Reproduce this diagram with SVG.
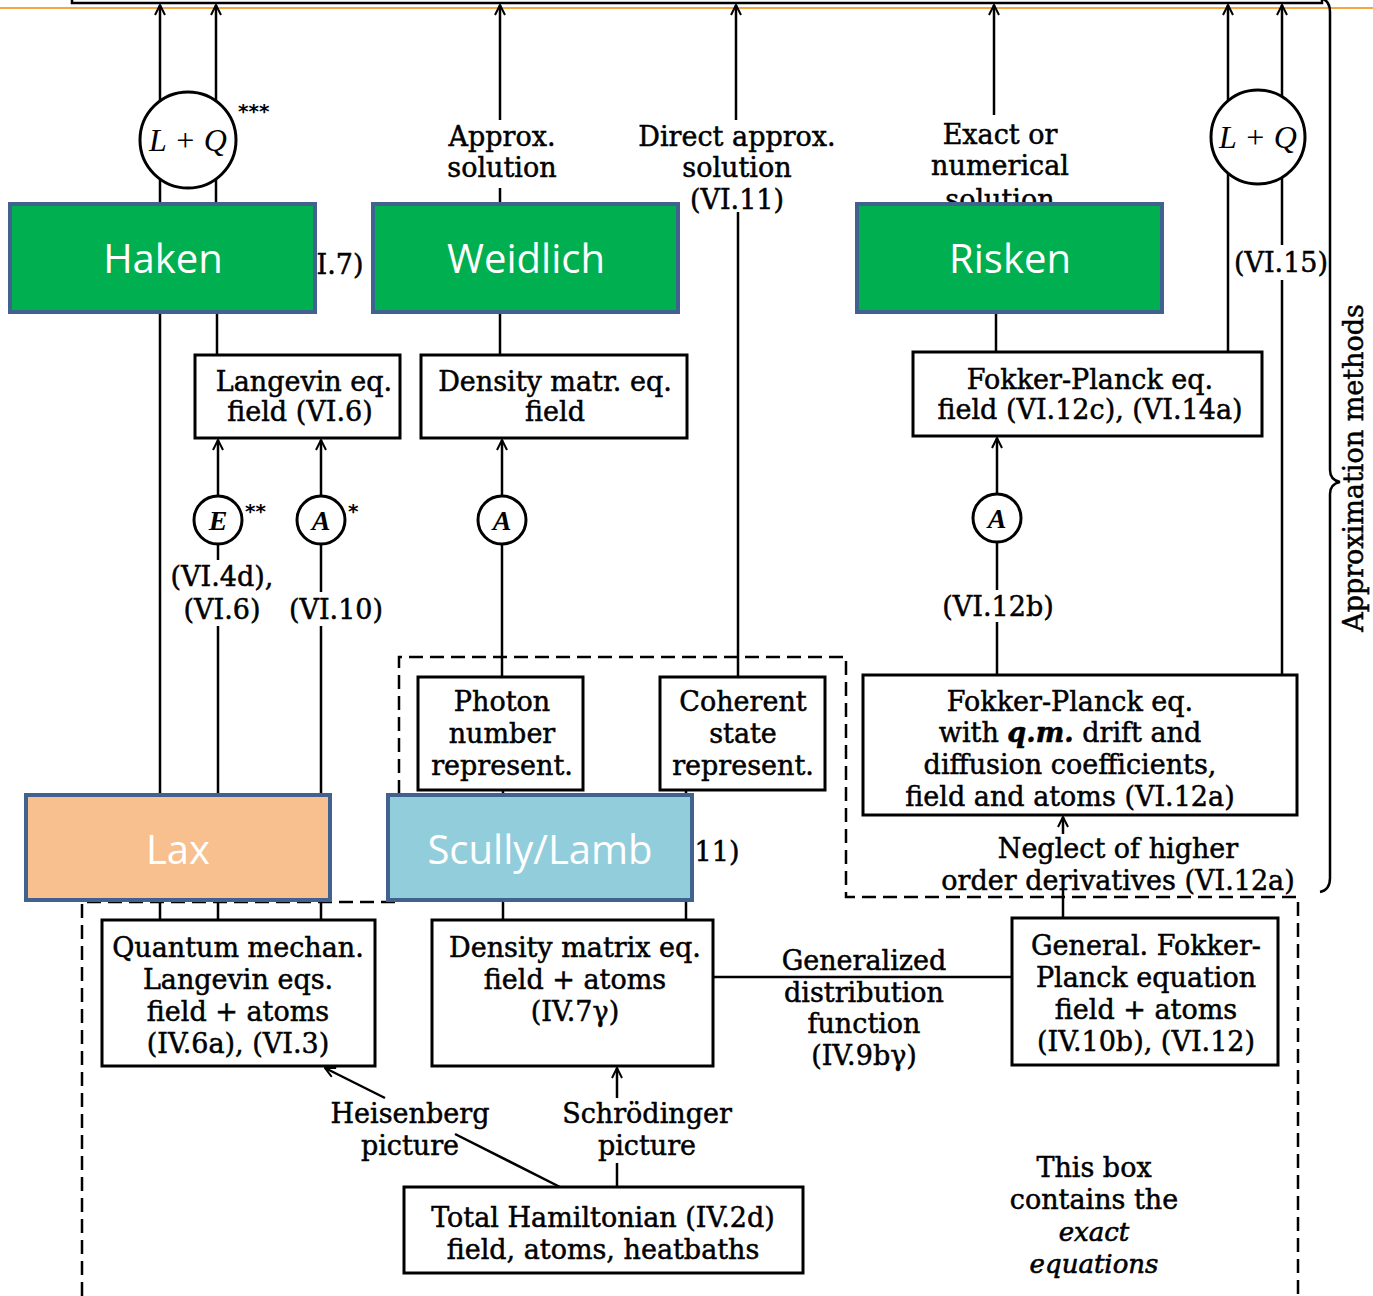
<svg xmlns="http://www.w3.org/2000/svg" width="1373" height="1296" viewBox="0 0 1373 1296">
<style>
.t{font-family:"DejaVu Serif",serif;font-size:27px;fill:#000;stroke:#000;stroke-width:0.5;text-anchor:middle}
.ti{font-family:"DejaVu Serif",serif;font-size:26px;font-style:italic;fill:#000;stroke:#000;stroke-width:0.6;text-anchor:middle}
.m{font-family:"Liberation Serif",serif;font-size:32px;font-style:italic;fill:#000;text-anchor:middle}
.c{font-family:"Liberation Serif",serif;font-size:28px;font-style:italic;font-weight:bold;fill:#000;text-anchor:middle}
.st{font-family:"DejaVu Sans",sans-serif;font-size:20px;font-weight:bold;fill:#000}
.b{fill:#fff;stroke:#000;stroke-width:3}
.l{stroke:#000;stroke-width:2.5;fill:none}
.d{stroke:#000;stroke-width:2.5;fill:none;stroke-dasharray:14 7}
.hl{stroke:#41628F;stroke-width:4}
.ht{font-family:"Open Sans",sans-serif;font-size:40px;fill:#fff;text-anchor:middle}
</style>
<defs>
<marker id="ar" viewBox="0 0 12 12" refX="11" refY="6" markerWidth="12" markerHeight="12" markerUnits="userSpaceOnUse" orient="auto">
<path d="M1,1 L11,6 L1,11" fill="none" stroke="#000" stroke-width="2"/>
</marker>
</defs>
<rect width="1373" height="1296" fill="#fff"/>
<!-- top box and orange rule -->
<rect x="72" y="-20" width="1250" height="23" fill="none" stroke="#000" stroke-width="2.5"/>
<line x1="0" y1="8" x2="1373" y2="8" stroke="#F5A640" stroke-width="2"/>
<!-- brace -->
<path class="l" d="M1320,-2 Q1330,0 1330,12 V470 Q1330,480 1340,482 Q1330,484 1330,494 V878 Q1330,890 1320,892" stroke-width="3"/>
<text class="t" transform="translate(1363,468) rotate(-90)" font-size="26">Approximation methods</text>

<!-- exact equations dashed box -->
<path class="d" d="M82,1296 V902 H399 V657 H846 V897 H1298 V1296"/>

<g id="connectors">
<!-- top arrows -->
<line class="l" x1="160" y1="204" x2="160" y2="5" marker-end="url(#ar)"/>
<line class="l" x1="216" y1="204" x2="216" y2="5" marker-end="url(#ar)"/>
<line class="l" x1="500" y1="120" x2="500" y2="5" marker-end="url(#ar)"/>
<line class="l" x1="736" y1="120" x2="736" y2="5" marker-end="url(#ar)"/>
<line class="l" x1="994" y1="115" x2="994" y2="5" marker-end="url(#ar)"/>
<line class="l" x1="1228" y1="352" x2="1228" y2="5" marker-end="url(#ar)"/>
<line class="l" x1="1282" y1="245" x2="1282" y2="5" marker-end="url(#ar)"/>
<line class="l" x1="1282" y1="280" x2="1282" y2="675"/>
<!-- small joins -->
<line class="l" x1="500" y1="188" x2="500" y2="204"/>
<line class="l" x1="738" y1="212" x2="738" y2="677"/>
<!-- left column -->
<line class="l" x1="160" y1="312" x2="160" y2="920"/>
<line class="l" x1="217" y1="312" x2="217" y2="355"/>
<line class="l" x1="218" y1="496" x2="218" y2="440" marker-end="url(#ar)"/>
<line class="l" x1="321" y1="496" x2="321" y2="440" marker-end="url(#ar)"/>
<line class="l" x1="218" y1="544" x2="218" y2="560"/>
<line class="l" x1="218" y1="626" x2="218" y2="920"/>
<line class="l" x1="321" y1="544" x2="321" y2="592"/>
<line class="l" x1="321" y1="626" x2="321" y2="920"/>
<!-- density matr column -->
<line class="l" x1="500" y1="312" x2="500" y2="355"/>
<line class="l" x1="502" y1="496" x2="502" y2="440" marker-end="url(#ar)"/>
<line class="l" x1="502" y1="544" x2="502" y2="677"/>
<line class="l" x1="503" y1="790" x2="503" y2="920"/>
<line class="l" x1="686" y1="790" x2="686" y2="920"/>
<!-- Fokker-Planck column -->
<line class="l" x1="996" y1="312" x2="996" y2="352"/>
<line class="l" x1="997" y1="494" x2="997" y2="438" marker-end="url(#ar)"/>
<line class="l" x1="997" y1="542" x2="997" y2="590"/>
<line class="l" x1="997" y1="622" x2="997" y2="675"/>
<line class="l" x1="1063" y1="834" x2="1063" y2="817" marker-end="url(#ar)"/>
<line class="l" x1="1063" y1="888" x2="1063" y2="918"/>
<!-- bottom -->
<line class="l" x1="713" y1="977" x2="1012" y2="977"/>
<line class="l" x1="560" y1="1187" x2="455" y2="1134"/>
<line class="l" x1="385" y1="1098" x2="325" y2="1068" marker-end="url(#ar)"/>
<line class="l" x1="617" y1="1187" x2="617" y2="1163"/>
<line class="l" x1="617" y1="1098" x2="617" y2="1068" marker-end="url(#ar)"/>
</g>

<!-- labels -->
<g id="labels">
<text class="t" x="502" y="146">Approx.</text>
<text class="t" x="502" y="177">solution</text>
<text class="t" x="737" y="146">Direct approx.</text>
<text class="t" x="737" y="177">solution</text>
<text class="t" x="737" y="209">(VI.11)</text>
<text class="t" x="1000" y="144">Exact or</text>
<text class="t" x="1000" y="175">numerical</text>
<text class="t" x="1000" y="209">solution</text>
<text class="t" x="340" y="274">I.7)</text>
<text class="t" x="1281" y="272">(VI.15)</text>
<text class="t" x="222" y="586">(VI.4d),</text>
<text class="t" x="222" y="619">(VI.6)</text>
<text class="t" x="336" y="619">(VI.10)</text>
<text class="t" x="998" y="616">(VI.12b)</text>
<text class="t" x="717" y="861">11)</text>
<text class="t" x="1118" y="858">Neglect of higher</text>
<text class="t" x="1118" y="890">order derivatives (VI.12a)</text>
<text class="t" x="864" y="970">Generalized</text>
<text class="t" x="864" y="1002">distribution</text>
<text class="t" x="864" y="1033">function</text>
<text class="t" x="864" y="1065">(IV.9bγ)</text>
<text class="t" x="410" y="1123">Heisenberg</text>
<text class="t" x="410" y="1155">picture</text>
<text class="t" x="647" y="1123">Schrödinger</text>
<text class="t" x="647" y="1155">picture</text>
<text class="t" x="1094" y="1177">This box</text>
<text class="t" x="1094" y="1209">contains the</text>
<text class="ti" x="1094" y="1241">exact</text>
<text class="ti" x="1094" y="1273">equations</text>
</g>

<!-- circles -->
<g id="lq-left"><circle class="b" cx="188" cy="140" r="48" stroke-width="2.5"/><text class="m" x="188" y="151">L + Q</text><text class="st" x="238" y="118">***</text></g>
<g id="lq-right"><circle class="b" cx="1258" cy="137" r="47" stroke-width="2.5"/><text class="m" x="1258" y="148">L + Q</text></g>
<g id="e-circle"><circle class="b" cx="218" cy="520" r="24" stroke-width="2.5"/><text class="c" x="218" y="530">E</text><text class="st" x="245" y="518">**</text></g>
<g id="a-circle1"><circle class="b" cx="321" cy="520" r="24" stroke-width="2.5"/><text class="c" x="321" y="530">A</text><text class="st" x="348" y="518">*</text></g>
<g id="a-circle2"><circle class="b" cx="502" cy="520" r="24" stroke-width="2.5"/><text class="c" x="502" y="530">A</text></g>
<g id="a-circle3"><circle class="b" cx="997" cy="518" r="24" stroke-width="2.5"/><text class="c" x="997" y="528">A</text></g>

<!-- text boxes -->
<g id="langevin"><rect class="b" x="195" y="355" width="205" height="83"/><text class="t" x="304" y="391">Langevin eq.</text><text class="t" x="300" y="421">field (VI.6)</text></g>
<g id="density-field"><rect class="b" x="421" y="355" width="266" height="83"/><text class="t" x="555" y="391">Density matr. eq.</text><text class="t" x="555" y="421">field</text></g>
<g id="fp-field"><rect class="b" x="913" y="352" width="349" height="84"/><text class="t" x="1090" y="389">Fokker-Planck eq.</text><text class="t" x="1090" y="419">field (VI.12c), (VI.14a)</text></g>
<g id="photon"><rect class="b" x="418" y="677" width="165" height="113"/><text class="t" x="502" y="711">Photon</text><text class="t" x="502" y="743">number</text><text class="t" x="502" y="775">represent.</text></g>
<g id="coherent"><rect class="b" x="660" y="677" width="165" height="113"/><text class="t" x="743" y="711">Coherent</text><text class="t" x="743" y="743">state</text><text class="t" x="743" y="775">represent.</text></g>
<g id="fp-qm"><rect class="b" x="863" y="675" width="434" height="140"/><text class="t" x="1070" y="711">Fokker-Planck eq.</text><text class="t" x="1070" y="742">with <tspan font-style="italic" font-weight="bold">q.m.</tspan> drift and</text><text class="t" x="1070" y="774">diffusion coefficients,</text><text class="t" x="1070" y="806">field and atoms (VI.12a)</text></g>
<g id="qm-langevin"><rect class="b" x="102" y="920" width="273" height="146"/><text class="t" x="238" y="957">Quantum mechan.</text><text class="t" x="238" y="989">Langevin eqs.</text><text class="t" x="238" y="1021">field + atoms</text><text class="t" x="238" y="1053">(IV.6a), (VI.3)</text></g>
<g id="density-atoms"><rect class="b" x="432" y="920" width="281" height="146"/><text class="t" x="575" y="957">Density matrix eq.</text><text class="t" x="575" y="989">field + atoms</text><text class="t" x="575" y="1021">(IV.7γ)</text></g>
<g id="general-fp"><rect class="b" x="1012" y="918" width="266" height="147"/><text class="t" x="1146" y="955">General. Fokker-</text><text class="t" x="1146" y="987">Planck equation</text><text class="t" x="1146" y="1019">field + atoms</text><text class="t" x="1146" y="1051">(IV.10b), (VI.12)</text></g>
<g id="hamiltonian"><rect class="b" x="404" y="1187" width="399" height="86"/><text class="t" x="603" y="1227">Total Hamiltonian (IV.2d)</text><text class="t" x="603" y="1259">field, atoms, heatbaths</text></g>

<!-- author boxes -->
<g id="haken"><rect class="hl" x="10" y="204" width="305" height="108" fill="#00B050"/><text class="ht" x="163" y="273">Haken</text></g>
<g id="weidlich"><rect class="hl" x="373" y="204" width="305" height="108" fill="#00B050"/><text class="ht" x="526" y="273">Weidlich</text></g>
<g id="risken"><rect class="hl" x="857" y="204" width="305" height="108" fill="#00B050"/><text class="ht" x="1010" y="273">Risken</text></g>
<g id="lax"><rect class="hl" x="26" y="795" width="304" height="105" fill="#F8BF8F"/><text class="ht" x="178" y="864">Lax</text></g>
<g id="scully-lamb"><rect class="hl" x="388" y="795" width="304" height="105" fill="#92CDDC"/><text class="ht" x="540" y="864">Scully/Lamb</text></g>
</svg>
